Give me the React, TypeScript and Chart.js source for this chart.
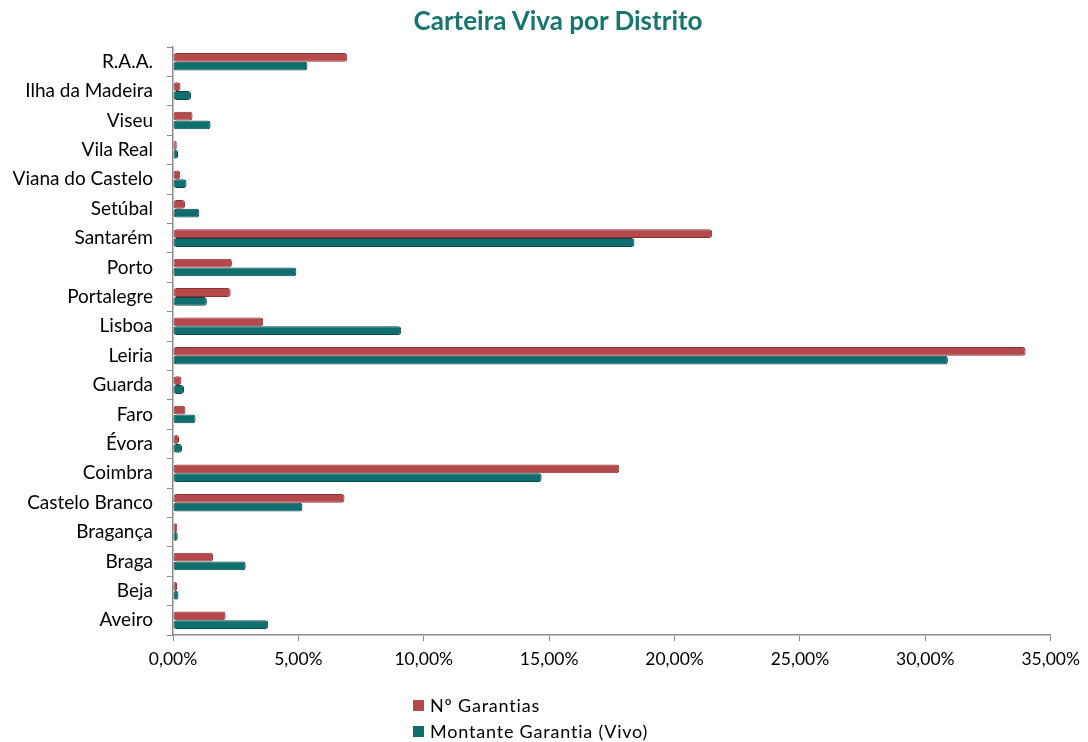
import React, { useEffect, useRef } from "react";
import { Chart, registerables } from "chart.js";

Chart.register(...registerables);

const titleText = "Carteira Viva por Distrito";
const categories = [
  "R.A.A.",
  "Ilha da Madeira",
  "Viseu",
  "Vila Real",
  "Viana do Castelo",
  "Setúbal",
  "Santarém",
  "Porto",
  "Portalegre",
  "Lisboa",
  "Leiria",
  "Guarda",
  "Faro",
  "Évora",
  "Coimbra",
  "Castelo Branco",
  "Bragança",
  "Braga",
  "Beja",
  "Aveiro",
];
const seriesNames = ["Nº Garantias", "Montante Garantia (Vivo)"];
const nGarantias = [6.95, 0.3, 0.78, 0.15, 0.29, 0.48, 21.5, 2.35, 2.3, 3.6, 34.0, 0.34, 0.5, 0.24, 17.8, 6.84, 0.17, 1.6, 0.16, 2.1];
const montanteGarantia = [5.36, 0.72, 1.5, 0.2, 0.54, 1.05, 18.4, 4.92, 1.35, 9.1, 30.9, 0.44, 0.9, 0.36, 14.7, 5.16, 0.19, 2.9, 0.22, 3.8];
const xMin = 0;
const xMax = 35;
const xStep = 5;

const RED = "#B5484B";
const RED_BORDER = "#8C3235";
const TEAL = "#0F6E6E";
const TEAL_BORDER = "#084848";
const FONT = "Lato, 'Open Sans', sans-serif";

function fmt(v: number): string {
  return v.toFixed(2).replace(".", ",") + "%";
}

export default function App() {
  const ref = useRef<HTMLCanvasElement | null>(null);

  useEffect(() => {
    if (!ref.current) return;
    const chart = new Chart(ref.current, {
      type: "bar",
      data: {
        labels: categories,
        datasets: [
          {
            label: seriesNames[0],
            data: nGarantias,
            backgroundColor: RED,
            borderColor: RED_BORDER,
            borderWidth: 1,
            borderRadius: 3,
            borderSkipped: false,
            barPercentage: 1.0,
            categoryPercentage: 0.6,
          },
          {
            label: seriesNames[1],
            data: montanteGarantia,
            backgroundColor: TEAL,
            borderColor: TEAL_BORDER,
            borderWidth: 1,
            borderRadius: 3,
            borderSkipped: false,
            barPercentage: 1.0,
            categoryPercentage: 0.6,
          },
        ],
      },
      options: {
        indexAxis: "y",
        animation: false,
        responsive: false,
        maintainAspectRatio: false,
        layout: { padding: { left: 0, right: 36, top: 47, bottom: 0 } },
        plugins: {
          legend: { display: false },
          tooltip: { enabled: false },
          title: { display: false },
        },
        scales: {
          x: {
            min: xMin,
            max: xMax,
            ticks: {
              stepSize: xStep,
              color: "#000",
              font: { family: FONT, size: 17.5 },
              padding: 8,
              callback: (v: any) => fmt(Number(v)),
            },
            grid: {
              drawOnChartArea: false,
              drawTicks: true,
              tickLength: 6,
              color: "#8C8C8C",
            },
            border: { display: true, color: "#8C8C8C", width: 1.5 },
            afterFit: (s: any) => {
              s.height = 107;
            },
          },
          y: {
            ticks: {
              color: "#000",
              font: { family: FONT, size: 19 },
              padding: 14,
            },
            grid: {
              drawOnChartArea: false,
              drawTicks: true,
              tickLength: 6,
              color: "#8C8C8C",
            },
            border: { display: true, color: "#8C8C8C", width: 1.5 },
            afterFit: (s: any) => {
              s.width = 173;
            },
          },
        },
      },
    });
    return () => chart.destroy();
  }, []);

  const legendItem = (color: string, text: string) => (
    <div style={{ display: "flex", alignItems: "center", height: 26 }}>
      <span style={{ display: "inline-block", width: 11, height: 11, background: color, marginRight: 6 }} />
      <span style={{ fontFamily: FONT, fontSize: 18, color: "#000", letterSpacing: 0.8 }}>{text}</span>
    </div>
  );

  return (
    <div style={{ position: "fixed", left: 0, top: 0, width: 1088, height: 742, background: "#fff" }}>
      <canvas ref={ref} width={1088} height={742} style={{ display: "block", width: 1088, height: 742 }} />
      <div
        style={{
          position: "absolute",
          left: 358,
          width: 400,
          top: 4,
          textAlign: "center",
          fontFamily: FONT,
          fontSize: 26,
          fontWeight: "bold",
          color: "#17756C",
          lineHeight: "32px",
        }}
      >
        {titleText}
      </div>
      <div style={{ position: "absolute", left: 413, top: 692 }}>
        {legendItem(RED, seriesNames[0])}
        {legendItem(TEAL, seriesNames[1])}
      </div>
    </div>
  );
}
